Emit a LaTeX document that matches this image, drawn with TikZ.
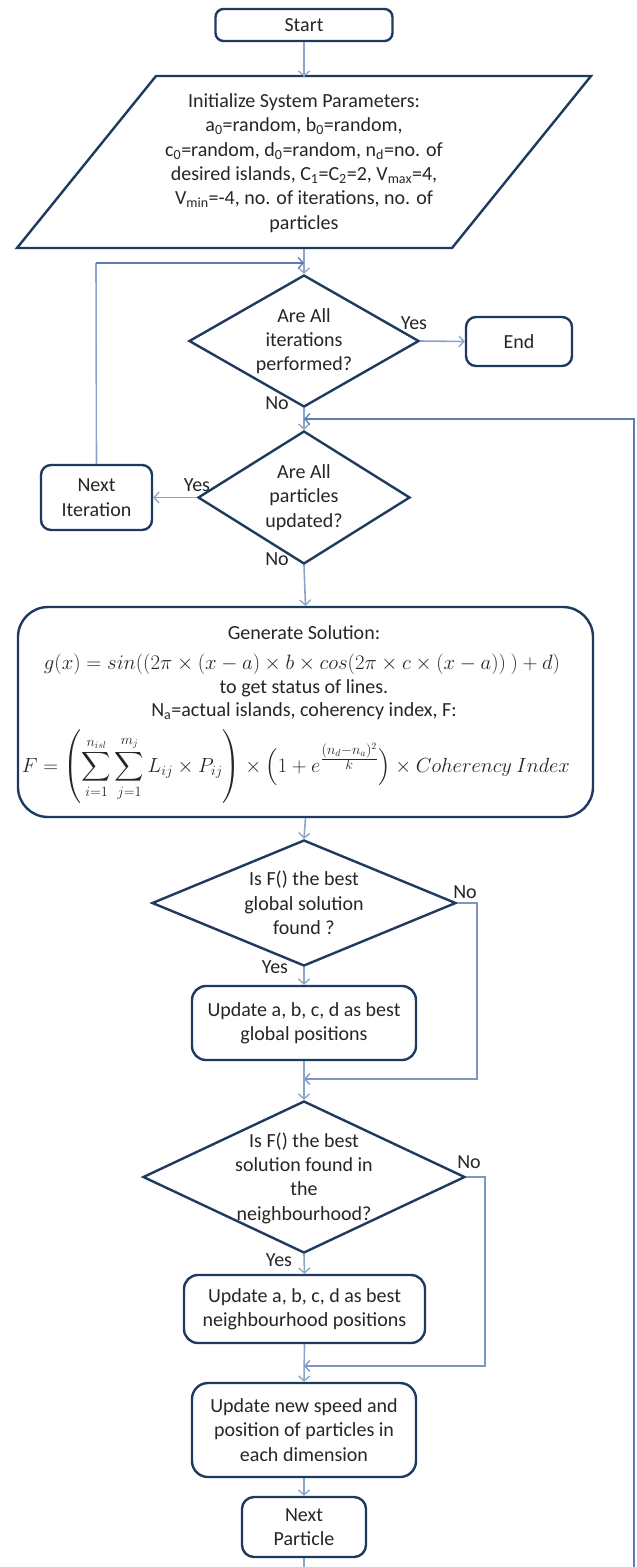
\documentclass[tikz,border=0pt]{standalone}
\usepackage{fontspec}
\setmainfont{Carlito}
\usepackage{amsmath}
\usepackage{graphicx}
\usetikzlibrary{shapes.geometric,arrows.meta}
\definecolor{navy}{HTML}{1F3A5F}
\definecolor{conn}{HTML}{8CA5C7}
\definecolor{loopc}{HTML}{5B7DB3}
\definecolor{txtc}{HTML}{262626}
\begin{document}
\begin{tikzpicture}[x=1pt,y=-1pt,
  every node/.style={font=\fontsize{20}{24.3}\selectfont, text=txtc},
  box/.style={draw=navy,line width=2.4pt,rounded corners=10pt,inner sep=0pt,align=center},
  dia/.style={shape=diamond,draw=navy,line width=2.4pt,inner sep=0pt},
  txt/.style={align=center,inner sep=0pt},
  lbl/.style={inner sep=0pt},
  arr/.style={draw=conn,line width=1.6pt,-{Straight Barb[length=5pt,width=11pt,line width=1.3pt]}},
  ln/.style={draw=conn,line width=1.6pt},
  lp/.style={draw=loopc,line width=1.3pt}
]
\useasboundingbox[fill=white] (0,0) rectangle (637,1567);

% Start
\node[box,rounded corners=8pt,minimum width=177pt,minimum height=32pt] (start) at (304,25) {Start};

% Init parallelogram
\draw[navy,line width=2.4pt] (156,76) -- (591,76) -- (452,248) -- (17,248) -- cycle;
\node[txt,minimum height=172pt] (init) at (304,163) {Initialize System Parameters:\\
a\textsubscript{0}=random, b\textsubscript{0}=random,\\
c\textsubscript{0}=random, d\textsubscript{0}=random, n\textsubscript{d}=no. of\\
desired islands, C\textsubscript{1}=C\textsubscript{2}=2, V\textsubscript{max}=4,\\
V\textsubscript{min}=-4, no. of iterations, no. of\\
particles};

% Decision 1
\node[dia,minimum width=230pt,minimum height=132pt] (d1) at (304,341) {};
\node[txt] at (d1) {Are All\\iterations\\performed?};
\node[box,minimum width=106pt,minimum height=49pt] (end) at (519,341.5) {End};

% Decision 2
\node[dia,minimum width=212pt,minimum height=133pt] (d2) at (304,497.5) {};
\node[txt] at (d2) {Are All\\particles\\updated?};
\node[box,minimum width=111pt,minimum height=65pt] (nextit) at (96.5,497.5) {Next\\Iteration};

% Generate solution
\node[box,rounded corners=30pt,minimum width=575pt,minimum height=210pt] (gen) at (305.5,712) {};
\node[txt] at (304,633) {Generate Solution:};
\node[txt] at (302,664) {\resizebox{516pt}{!}{$g(x)=sin((2\pi\times(x-a)\times b\times cos(2\pi\times c\times(x-a))\ )+d)$}};
\node[txt] at (304,688) {to get status of lines.};
\node[txt] at (304,711) {N\textsubscript{a}=actual islands, coherency index, F:};
\node[txt] at (296,767) {\resizebox{548pt}{!}{$F=\left(\displaystyle\sum_{i=1}^{n_{isl}}\sum_{j=1}^{m_j}L_{ij}\times P_{ij}\right)\times\Bigl(1+e^{\frac{\scriptstyle (n_d-n_a)^2}{\scriptstyle k}}\Bigr)\times Coherency\ Index$}};

% Decision 3
\node[dia,minimum width=304pt,minimum height=126pt] (d3) at (304,903) {};
\node[txt] at (d3) {Is F() the best\\global solution\\found ?};
\node[box,rounded corners=14pt,minimum width=224pt,minimum height=74pt] (updg) at (304,1023) {Update a, b, c, d as best\\global positions};

% Decision 4
\node[dia,minimum width=322pt,minimum height=152pt] (d4) at (304,1177) {};
\node[txt] at (304,1178) {Is F() the best\\solution found in\\the\\neighbourhood?};
\node[box,rounded corners=14pt,minimum width=241pt,minimum height=68pt] (updn) at (304.5,1309) {Update a, b, c, d as best\\neighbourhood positions};

% Update speed
\node[box,rounded corners=16pt,minimum width=224pt,minimum height=94pt] (speed) at (304,1430) {Update new speed and\\position of particles in\\each dimension};
\node[box,rounded corners=12pt,minimum width=124pt,minimum height=60pt] (np) at (304,1527) {Next\\Particle};

% coordinates
\coordinate (j1) at (304,263);
\coordinate (c1) at (96,263);
\coordinate (j2) at (304,419);
\coordinate (rt) at (634,419);
\coordinate (rb) at (634,1567);
\coordinate (c3a) at (477,903);
\coordinate (c3b) at (477,1079);
\coordinate (j3) at (304,1079);
\coordinate (c4a) at (485,1177);
\coordinate (c4b) at (485,1366);
\coordinate (j4) at (304,1366);
\coordinate (bot) at (304,1567);

% connectors
\draw[arr] (start.south) -- (init.north);
\draw[arr] (init.south) -- (d1.north);
\draw[ln] (nextit.north) -- (c1);
\draw[arr,draw=loopc,line width=1.3pt] (c1) -- (j1);
\draw[arr] (d1.east) -- (end.west);
\draw[arr] (d1.south) -- (d2.north);
\draw[arr,draw=loopc,line width=1.3pt] (rb) -- (rt) -- (j2);
\draw[arr] (d2.west) -- (nextit.east);
\draw[arr] (d2.south) -- (gen.north);
\draw[arr] (gen.south) -- (d3.north);
\draw[arr] (d3.south) -- (updg.north);
\draw[arr,draw=loopc!80,line width=1.3pt] (d3.east) -- (c3a) -- (c3b) -- (j3);
\draw[arr] (updg.south) -- (d4.north);
\draw[arr] (d4.south) -- (updn.north);
\draw[arr,draw=loopc!80,line width=1.3pt] (d4.east) -- (c4a) -- (c4b) -- (j4);
\draw[arr] (updn.south) -- (speed.north);
\draw[arr] (speed.south) -- (np.north);
\draw[ln] (np.south) -- (bot);

% labels
\node[lbl] at (414,323) {Yes};
\node[lbl] at (277,403) {No};
\node[lbl] at (197,485) {Yes};
\node[lbl] at (277,559) {No};
\node[lbl] at (465,892) {No};
\node[lbl] at (275,967) {Yes};
\node[lbl] at (469,1162) {No};
\node[lbl] at (279,1260) {Yes};
\end{tikzpicture}
\end{document}
